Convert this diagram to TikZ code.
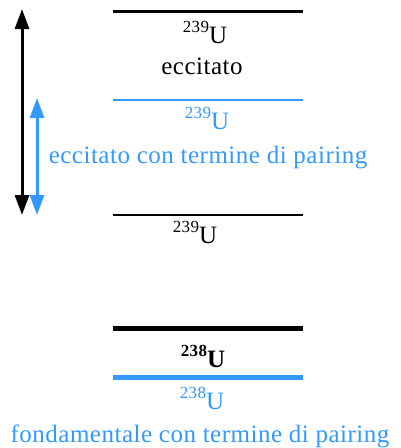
\documentclass[tikz,border=0pt]{standalone}
\usepackage{fontspec}
\setmainfont[LetterSpace=2]{Liberation Serif}
\usetikzlibrary{
    arrows.meta
}
\definecolor{pairblue}{RGB}{51,153,255}
\newcommand{\massnum}[1]{\raisebox{0.42em}{\fontsize{17}{17}\selectfont #1}}

\begin{document}
\begin{tikzpicture}
[
    x=1pt,
    y=-1pt,
    font=\fontsize{25}{29}\selectfont,
    level/.style={
        line width=2.6pt
    },
    thicklevel/.style={
        line width=5pt
    },
    label/.style={
        anchor=base,
        inner sep=0pt,
        align=center
    },
    span/.style={
        {Triangle[length=20pt,width=14pt]}-{Triangle[length=20pt,width=14pt]},
        line width=3pt
    }
]

\useasboundingbox (0,0) rectangle (400,448);

% =====================
% LEVELS
% =====================

\coordinate (exl) at (113,11);
\coordinate (exr) at (303,11);
\coordinate (pxl) at (113,100);
\coordinate (pxr) at (303,100);
\coordinate (gsl) at (113,215);
\coordinate (gsr) at (303,215);
\coordinate (ful) at (113,328);
\coordinate (fur) at (303,328);
\coordinate (pfl) at (113,377);
\coordinate (pfr) at (303,377);

\draw[level, line width=3pt] (exl) -- (exr);
\draw[level, pairblue] (pxl) -- (pxr);
\draw[level] (gsl) -- (gsr);
\draw[thicklevel] (ful) -- (fur);
\draw[thicklevel, pairblue] (pfl) -- (pfr);

% =====================
% LABELS
% =====================

\node[label] (exiso) at (205,43) {\massnum{239}U};
\node[label] (exname) at (202,74) {eccitato};
\node[label, pairblue] (pxiso) at (207,129) {\massnum{239}U};
\node[label, pairblue] (pxname) at (208,163) {eccitato con termine di pairing};
\node[label] (gsiso) at (195,243) {\massnum{239}U};
\node[label] (fuiso) at (203,367) {\bfseries\massnum{238}U};
\node[label, pairblue] (pfiso) at (202,409) {\massnum{238}U};
\node[label, pairblue] (pfname) at (200,442) {fondamentale con termine di pairing};

% =====================
% ENERGY GAPS
% =====================

\coordinate (bktop) at (22,9);
\coordinate (bkbot) at (22,215);
\coordinate (bltop) at (37,98);
\coordinate (blbot) at (37,215);

\draw[span] (bktop) -- (bkbot);
\draw[span, pairblue] (bltop) -- (blbot);

\end{tikzpicture}
\end{document}
